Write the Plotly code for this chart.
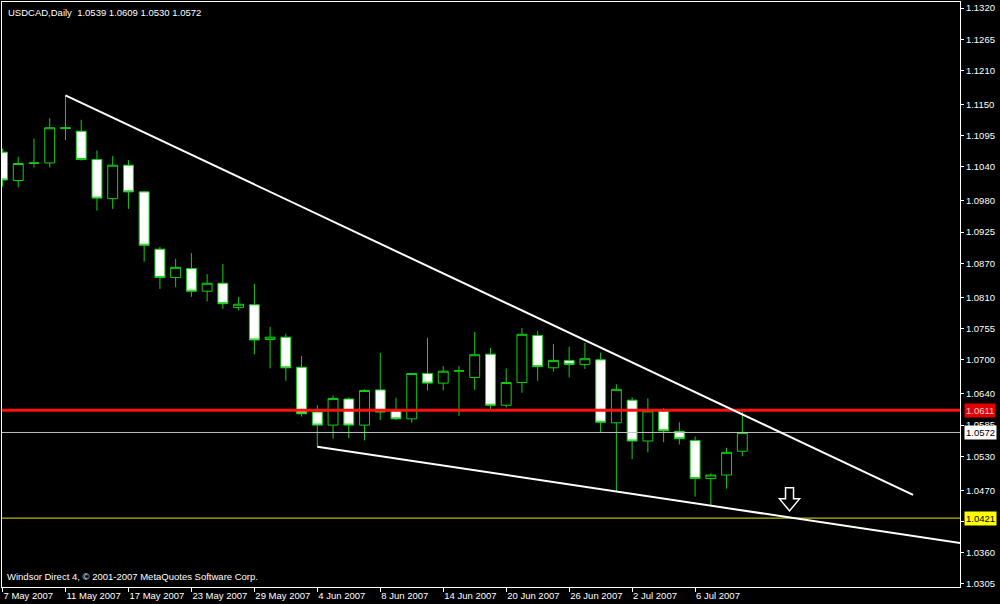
import plotly.graph_objects as go

# ---------------- data ----------------
symbol = "USDCAD"
period = "Daily"

open_ = [1.1066, 1.1016, 1.1046, 1.1047, 1.1109, 1.1103, 1.1053, 1.0984, 1.1043, 1.0996,
         1.0895, 1.0845, 1.0861, 1.0821, 1.0835, 1.0792, 1.0797, 1.0736, 1.0740, 1.0687,
         1.0608, 1.0585, 1.0631, 1.0585, 1.0647, 1.0610, 1.0596, 1.0676, 1.0659, 1.0680,
         1.0669, 1.0710, 1.0620, 1.0660, 1.0743, 1.0686, 1.0699, 1.0692, 1.0700, 1.0589,
         1.0629, 1.0557, 1.0610, 1.0574, 1.0558, 1.0491, 1.0497, 1.0539]
high = [1.1072, 1.1058, 1.1090, 1.1126, 1.1166, 1.1123, 1.1069, 1.1059, 1.1052, 1.0998,
        1.0899, 1.0878, 1.0888, 1.0851, 1.0869, 1.0811, 1.0834, 1.0758, 1.0746, 1.0707,
        1.0620, 1.0637, 1.0634, 1.0648, 1.0712, 1.0633, 1.0677, 1.0739, 1.0689, 1.0689,
        1.0749, 1.0721, 1.0685, 1.0756, 1.0751, 1.0728, 1.0723, 1.0730, 1.0713, 1.0657,
        1.0634, 1.0632, 1.0615, 1.0590, 1.0565, 1.0500, 1.0545, 1.0609]
low = [1.1005, 1.1004, 1.1039, 1.1039, 1.1087, 1.1051, 1.0963, 1.0966, 1.0966, 1.0873,
       1.0825, 1.0828, 1.0811, 1.0803, 1.0790, 1.0787, 1.0710, 1.0685, 1.0663, 1.0600,
       1.0547, 1.0561, 1.0562, 1.0558, 1.0594, 1.0594, 1.0589, 1.0646, 1.0646, 1.0601,
       1.0647, 1.0613, 1.0616, 1.0642, 1.0663, 1.0679, 1.0669, 1.0684, 1.0571, 1.0468,
       1.0525, 1.0537, 1.0555, 1.0551, 1.0459, 1.0443, 1.0473, 1.0530]
close = [1.1017, 1.1046, 1.1047, 1.1109, 1.1108, 1.1053, 1.0985, 1.1043, 1.0996, 1.0902,
         1.0845, 1.0863, 1.0821, 1.0835, 1.0799, 1.0798, 1.0735, 1.0740, 1.0686, 1.0605,
         1.0585, 1.0632, 1.0585, 1.0646, 1.0608, 1.0596, 1.0676, 1.0659, 1.0680, 1.0681,
         1.0709, 1.0620, 1.0660, 1.0745, 1.0688, 1.0699, 1.0692, 1.0702, 1.0590, 1.0648,
         1.0557, 1.0610, 1.0575, 1.0561, 1.0491, 1.0497, 1.0537, 1.0572]

date_tick_bars = [0, 4, 8, 12, 16, 20, 24, 28, 32, 36, 40, 44]
date_tick_labels = ["7 May 2007", "11 May 2007", "17 May 2007", "23 May 2007",
                    "29 May 2007", "4 Jun 2007", "8 Jun 2007", "14 Jun 2007",
                    "20 Jun 2007", "26 Jun 2007", "2 Jul 2007", "6 Jul 2007"]

price_ticks = [1.1320, 1.1265, 1.1210, 1.1150, 1.1095, 1.1040, 1.0980, 1.0925, 1.0870,
               1.0810, 1.0755, 1.0700, 1.0640, 1.0585, 1.0530, 1.0470, 1.0415, 1.0360,
               1.0305]

upper_line_bars = [4, 57.85]
upper_line_prices = [1.1166, 1.0462]
lower_line_bars = [20, 61.0]
lower_line_prices = [1.0547, 1.03765]

resistance_level = 1.0611
support_level = 1.0421
bid_level = close[-1]

arrow_bar = 50.0
arrow_price = 1.0455

copyright_text = "Windsor Direct 4, \u00a9 2001-2007 MetaQuotes Software Corp."

# ---------------- styling ----------------
FONT = "Liberation Sans"
GREEN = "#12d012"
x_range = [-0.032, 60.83]
y_range = [1.02997, 1.13306]

bars = list(range(len(open_)))

fig = go.Figure()

fig.add_trace(go.Candlestick(
    x=bars, open=open_, high=high, low=low, close=close,
    increasing=dict(line=dict(color=GREEN, width=1), fillcolor="black"),
    decreasing=dict(line=dict(color=GREEN, width=1), fillcolor="white"),
    whiskerwidth=0, hoverinfo="skip", showlegend=False,
))

# horizontal levels
x_full = [x_range[0], x_range[1]]
fig.add_trace(go.Scatter(x=x_full, y=[resistance_level] * 2, mode="lines",
                         line=dict(color="#ff1010", width=3), showlegend=False, hoverinfo="skip"))
fig.add_trace(go.Scatter(x=x_full, y=[bid_level] * 2, mode="lines",
                         line=dict(color="#c0c0c8", width=1), showlegend=False, hoverinfo="skip"))
fig.add_trace(go.Scatter(x=x_full, y=[support_level] * 2, mode="lines",
                         line=dict(color="#b8b800", width=1.2), showlegend=False, hoverinfo="skip"))

# trend lines
fig.add_trace(go.Scatter(x=upper_line_bars, y=upper_line_prices, mode="lines",
                         line=dict(color="white", width=2), showlegend=False, hoverinfo="skip"))
fig.add_trace(go.Scatter(x=lower_line_bars, y=lower_line_prices, mode="lines",
                         line=dict(color="white", width=2), showlegend=False, hoverinfo="skip"))

# hollow down arrow marker
fig.add_shape(type="path", xref="x", yref="y", xsizemode="pixel", ysizemode="pixel",
              xanchor=arrow_bar, yanchor=arrow_price,
              path="M -4,11 L 4,11 L 4,0 L 10,0 L 0,-12 L -10,0 L -4,0 Z",
              line=dict(color="white", width=1.5), fillcolor="black")

fmt = lambda v: f"{v:.4f}"

annotations = [
    dict(xref="paper", yref="paper", x=0, y=1, xanchor="left", yanchor="top",
         xshift=4, yshift=-3, showarrow=False,
         text=f"{symbol},{period}\u00a0\u00a0{fmt(open_[-1])} {fmt(high[-1])} {fmt(low[-1])} {fmt(close[-1])}",
         font=dict(family=FONT, size=9.5, color="white")),
    dict(xref="paper", yref="paper", x=0, y=0, xanchor="left", yanchor="bottom",
         xshift=3, yshift=3, showarrow=False, text=copyright_text,
         font=dict(family=FONT, size=9.5, color="white")),
]
for lvl, bg, fg in [(resistance_level, "#e00000", "#ffd0d0"),
                    (bid_level, "white", "black"),
                    (support_level, "#ffff00", "black")]:
    annotations.append(dict(xref="paper", yref="y", x=1, y=lvl, xanchor="left", yanchor="middle",
                            xshift=4, showarrow=False, text=fmt(lvl), bgcolor=bg,
                            borderpad=1, font=dict(family=FONT, size=9.5, color=fg)))

fig.update_layout(
    width=1000, height=604,
    margin=dict(l=2, r=40, t=2, b=17),
    paper_bgcolor="black", plot_bgcolor="black",
    showlegend=False,
    annotations=annotations,
    boxgap=0.1, boxgroupgap=0.3,
    xaxis=dict(range=x_range, showgrid=False, zeroline=False, rangeslider=dict(visible=False),
               tickmode="array", tickvals=date_tick_bars, ticktext=date_tick_labels,
               ticks="outside", ticklen=4, tickcolor="white", tickwidth=1,
               ticklabelposition="outside right", tickangle=0, automargin=False,
               showline=True, linecolor="white", linewidth=1, mirror=True,
               tickfont=dict(family=FONT, size=9.5, color="white")),
    yaxis=dict(range=y_range, side="right", showgrid=False, zeroline=False, automargin=False,
               tickmode="array", tickvals=price_ticks, ticktext=[fmt(v) for v in price_ticks],
               ticks="outside", ticklen=3, tickcolor="white", tickwidth=1,
               showline=True, linecolor="white", linewidth=1, mirror=True,
               tickfont=dict(family=FONT, size=9.5, color="white")),
)

fig.write_html("out.html", config={"displayModeBar": False},
               post_script="document.body.style.margin='0';document.body.style.overflow='hidden';")
